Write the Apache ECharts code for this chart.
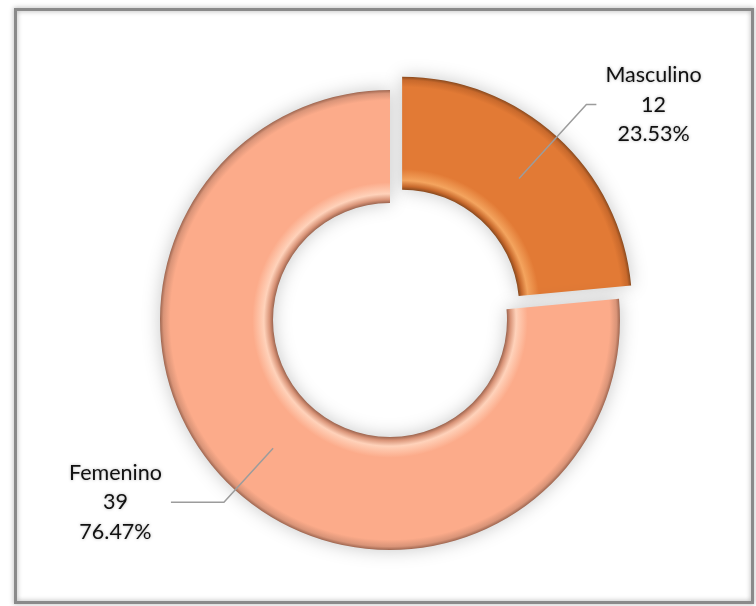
<!DOCTYPE html>
<html>
<head>
<meta charset="utf-8">
<script src="https://cdn.jsdelivr.net/npm/echarts@6/dist/echarts.min.js"></script>
<style>
html,body{margin:0;padding:0;background:#fff;}
#chart{width:756px;height:606px;}
</style>
</head>
<body>
<div id="chart"></div>
<script>
// Data
const categories = ['Masculino', 'Femenino'];
const values = [12, 39];
const colors = ['#E27A35', '#FCAB8A'];

const CX = 390, CY = 320, R0 = 117, R = 230;
const RMID = (R0 + R) / 2;
const ringFrac = R0 / R;

function ringGradient(edge, inner, hi, main) {
  return {
    type: 'radial', x: CX, y: CY, r: R, global: true,
    colorStops: [
      { offset: 0, color: main },
      { offset: ringFrac, color: edge },
      { offset: ringFrac + 0.015, color: inner },
      { offset: ringFrac + 0.04, color: hi },
      { offset: ringFrac + 0.09, color: main },
      { offset: 0.955, color: main },
      { offset: 0.985, color: inner },
      { offset: 1, color: edge }
    ]
  };
}

const fills = [
  ringGradient('#8A4A1E', '#C8692C', '#F4A45E', colors[0]),
  ringGradient('#9E6650', '#D99478', '#FFD2BA', colors[1])
];
const labelLines = [
  { length: 100, length2: 10 },
  { length: 73, length2: 53 }
];

const chart = echarts.init(document.getElementById('chart'), null, { renderer: 'canvas' });

const ringData = categories.map((name, i) => ({
  name: name,
  value: values[i],
  selected: i === 0,
  itemStyle: { color: fills[i] },
  select: { itemStyle: { color: fills[i], borderWidth: 0 } }
}));

const labelData = categories.map((name, i) => ({
  name: name,
  value: values[i],
  selected: i === 0,
  labelLine: labelLines[i]
}));

chart.setOption({
  backgroundColor: '#ffffff',
  animation: false,
  graphic: [{
    type: 'rect',
    shape: { x: 15.5, y: 9.5, width: 737, height: 593 },
    style: { fill: null, stroke: '#8a8a8a', lineWidth: 3, shadowBlur: 5, shadowColor: 'rgba(0,0,0,0.35)' },
    silent: true
  }],
  series: [{
    type: 'pie',
    center: [CX, CY],
    radius: [R0, R],
    startAngle: 90,
    clockwise: true,
    selectedMode: 'single',
    selectedOffset: 18,
    avoidLabelOverlap: false,
    silent: true,
    emphasis: { disabled: true, scale: false },
    itemStyle: {
      borderWidth: 0,
      shadowBlur: 18,
      shadowColor: 'rgba(0,0,0,0.22)'
    },
    label: { show: false },
    labelLine: { show: false },
    data: ringData
  }, {
    // transparent companion pie: its outer edge is the middle of the ring,
    // so the leader lines start inside the slices
    type: 'pie',
    z: 5,
    center: [CX, CY],
    radius: [0, RMID],
    startAngle: 90,
    clockwise: true,
    selectedMode: 'single',
    selectedOffset: 18,
    avoidLabelOverlap: false,
    silent: true,
    emphasis: { disabled: true, scale: false },
    itemStyle: { color: 'rgba(0,0,0,0)', borderWidth: 0 },
    select: { itemStyle: { color: 'rgba(0,0,0,0)', borderWidth: 0 } },
    label: {
      show: true,
      position: 'outside',
      distanceToLabelLine: 9,
      formatter: '{a|{b}}\n{a|{c}}\n{a|{d}%}',
      rich: {
        a: {
          align: 'center',
          fontFamily: 'Lato',
          fontSize: 21.5,
          lineHeight: 29.5,
          color: '#111111',
          textShadowColor: 'rgba(0,0,0,0.3)',
          textShadowBlur: 3
        }
      }
    },
    labelLine: {
      show: true,
      lineStyle: { color: '#9c9c9c', width: 1.5 }
    },
    data: labelData
  }]
});
</script>
</body>
</html>
